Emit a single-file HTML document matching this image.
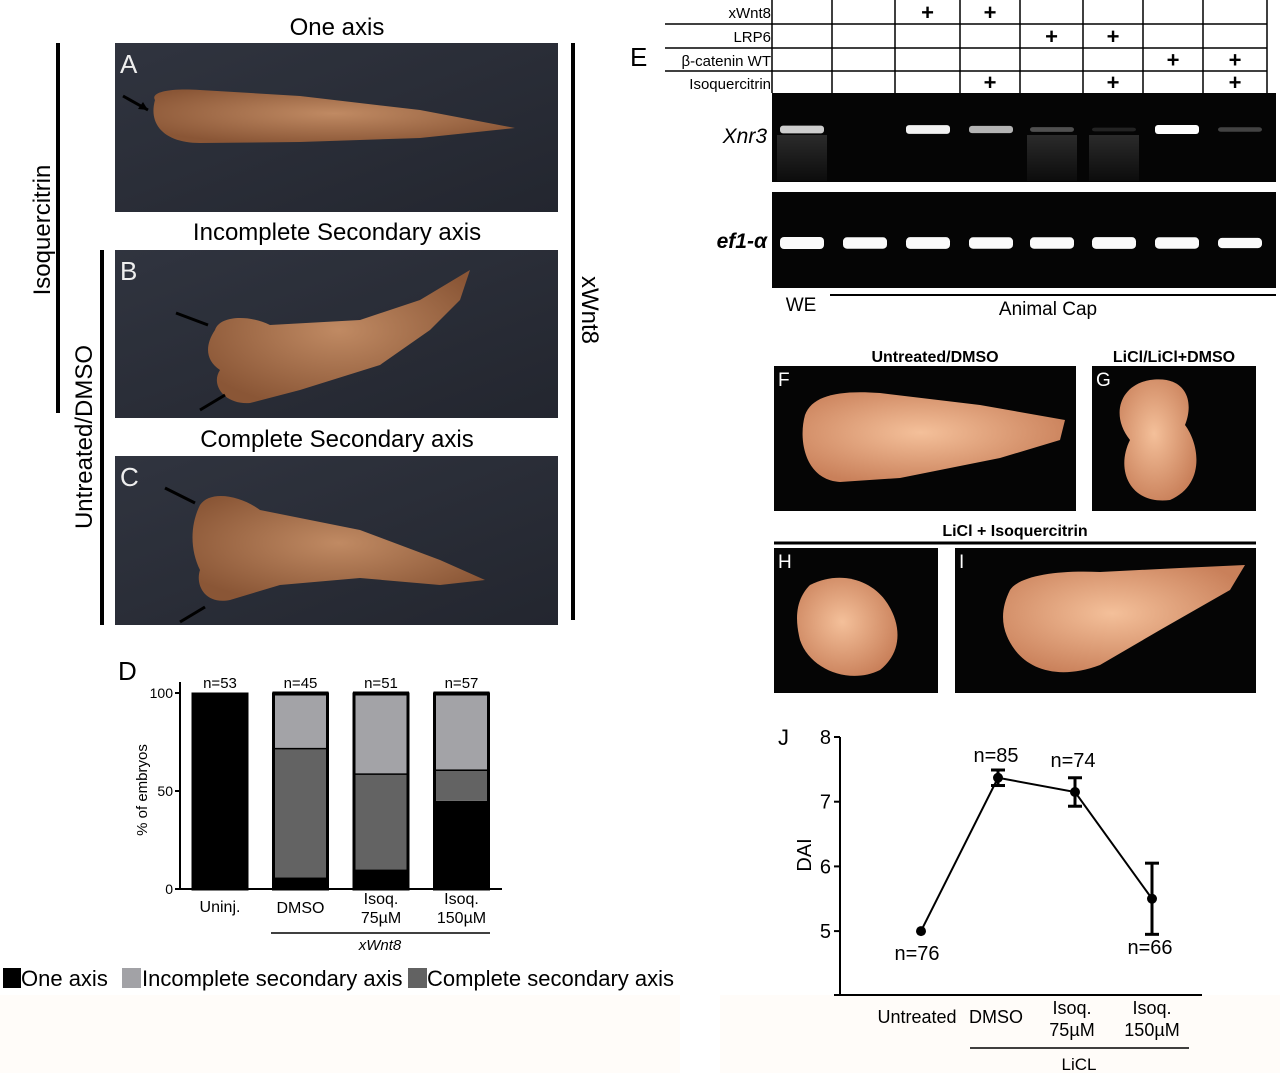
<!DOCTYPE html>
<html><head><meta charset="utf-8"><style>
html,body{margin:0;padding:0;background:#fff;}
body{width:1280px;height:1073px;position:relative;overflow:hidden;font-family:"Liberation Sans",sans-serif;}
svg{position:absolute;left:0;top:0;}
text{font-family:"Liberation Sans",sans-serif;}
</style></head><body>
<svg id="fig" width="1280" height="1073" viewBox="0 0 1280 1073">
<defs>
<radialGradient id="emb" cx="50%" cy="45%" r="60%"><stop offset="0" stop-color="#c08a63"/><stop offset="1" stop-color="#8a5636"/></radialGradient>
<radialGradient id="pe" cx="45%" cy="45%" r="60%"><stop offset="0" stop-color="#f4c09a"/><stop offset="1" stop-color="#c9805a"/></radialGradient>
<linearGradient id="dark" x1="0" y1="0" x2="1" y2="1"><stop offset="0" stop-color="#30343f"/><stop offset="1" stop-color="#23262f"/></linearGradient>
<linearGradient id="smear" x1="0" y1="0" x2="0" y2="1"><stop offset="0" stop-color="#444"/><stop offset="1" stop-color="#111"/></linearGradient>
</defs>
<rect x="0" y="995" width="680" height="78" fill="#fffcf9"/>
<rect x="720" y="995" width="560" height="78" fill="#fffcf9"/>

<text x="337" y="35" font-size="24" text-anchor="middle">One axis</text>
<g>
<rect x="115" y="43" width="443" height="169" fill="url(#dark)"/>
<path d="M155,100 C150,92 170,88 200,90 L300,96 L420,110 L515,128 L420,138 L300,142 L200,143 C165,143 148,125 155,100 Z" fill="url(#emb)"/>
<text x="120" y="73" font-size="26" fill="#eee">A</text>
<path d="M123,96 L148,110" stroke="#000" stroke-width="3"/><path d="M148,110 l-10,-1 l5,-7 z" fill="#000"/>
</g>
<text x="337" y="240" font-size="24" text-anchor="middle">Incomplete Secondary axis</text>
<g>
<rect x="115" y="250" width="443" height="168" fill="url(#dark)"/>
<path d="M215,330 C220,315 250,315 270,325 L360,320 L420,300 L470,270 L460,300 L430,330 L380,365 L300,390 L250,403 C225,405 210,385 220,370 C205,360 205,345 215,330 Z" fill="url(#emb)"/>
<text x="120" y="280" font-size="26" fill="#eee">B</text>
<path d="M176,313 L208,325" stroke="#000" stroke-width="3"/>
<path d="M200,410 L225,395" stroke="#000" stroke-width="3"/>
</g>
<text x="337" y="447" font-size="24" text-anchor="middle">Complete Secondary axis</text>
<g>
<rect x="115" y="456" width="443" height="169" fill="url(#dark)"/>
<path d="M200,505 C210,490 240,495 260,510 L360,530 L440,560 L485,580 L440,585 L360,578 L280,585 L230,600 C205,605 195,585 200,570 C190,550 190,525 200,505 Z" fill="url(#emb)"/>
<text x="120" y="486" font-size="26" fill="#eee">C</text>
<path d="M165,488 L195,503" stroke="#000" stroke-width="3"/>
<path d="M180,622 L205,607" stroke="#000" stroke-width="3"/>
</g>
<line x1="58" y1="43" x2="58" y2="413" stroke="#000" stroke-width="4"/>
<text transform="translate(50,230) rotate(-90)" font-size="24" text-anchor="middle">Isoquercitrin</text>
<line x1="102" y1="250" x2="102" y2="625" stroke="#000" stroke-width="4"/>
<text transform="translate(92,437) rotate(-90)" font-size="24" text-anchor="middle">Untreated/DMSO</text>
<line x1="573" y1="43" x2="573" y2="620" stroke="#000" stroke-width="4"/>
<text transform="translate(582,310) rotate(90)" font-size="24" text-anchor="middle">xWnt8</text>

<g id="chartD"></g>
<g>
<rect x="3" y="968" width="18" height="20" fill="#000"/>
<text x="21" y="986" font-size="22">One axis</text>
<rect x="122" y="968" width="19" height="20" fill="#a2a2a6"/>
<text x="142" y="986" font-size="22">Incomplete secondary axis</text>
<rect x="408" y="968" width="19" height="20" fill="#626262"/>
<text x="427" y="986" font-size="22">Complete secondary axis</text>
</g>

<text x="630" y="66" font-size="26">E</text>
<g id="tableE"></g>
<rect x="772" y="93" width="504" height="89" fill="#050505"/>
<rect x="772" y="192" width="504" height="96" fill="#050505"/>
<g id="gels"></g>
<text x="767" y="143" font-size="21" font-style="italic" text-anchor="end">Xnr3</text>
<text x="767" y="248" font-size="21" font-style="italic" font-weight="bold" text-anchor="end">ef1-α</text>
<text x="801" y="311" font-size="19" text-anchor="middle">WE</text>
<line x1="830" y1="295" x2="1276" y2="295" stroke="#000" stroke-width="2"/>
<text x="1048" y="315" font-size="19" text-anchor="middle">Animal Cap</text>

<text x="935" y="362" font-size="16" font-weight="bold" text-anchor="middle">Untreated/DMSO</text>
<text x="1174" y="362" font-size="16" font-weight="bold" text-anchor="middle">LiCl/LiCl+DMSO</text>
<g>
<rect x="774" y="366" width="302" height="145" fill="#050505"/>
<path d="M805,415 C812,395 840,390 880,393 L980,405 L1065,420 L1060,440 L1000,458 L900,478 L840,482 C805,480 798,440 805,415 Z" fill="url(#pe)"/>
<text x="778" y="386" font-size="19" fill="#fff">F</text></g>
<g>
<rect x="1092" y="366" width="164" height="145" fill="#050505"/>
<path d="M1150,380 C1185,375 1195,400 1185,425 C1200,445 1205,485 1170,500 C1130,505 1115,470 1130,440 C1110,415 1120,385 1150,380 Z" fill="url(#pe)"/>
<text x="1096" y="386" font-size="19" fill="#fff">G</text></g>
<text x="1015" y="536" font-size="16" font-weight="bold" text-anchor="middle">LiCl + Isoquercitrin</text>
<line x1="774" y1="543" x2="1256" y2="543" stroke="#000" stroke-width="3"/>
<g>
<rect x="774" y="548" width="164" height="145" fill="#050505"/>
<path d="M810,585 C840,570 870,580 885,600 C900,620 905,650 880,670 C850,685 810,670 800,640 C795,620 795,600 810,585 Z" fill="url(#pe)"/>
<text x="778" y="568" font-size="19" fill="#fff">H</text></g>
<g>
<rect x="955" y="548" width="301" height="145" fill="#050505"/>
<path d="M1010,590 C1020,575 1060,570 1100,572 L1180,568 L1245,565 L1230,590 L1160,630 L1100,665 C1060,680 1030,670 1015,650 C1000,630 1000,610 1010,590 Z" fill="url(#pe)"/>
<text x="959" y="568" font-size="19" fill="#fff">I</text></g>

<g id="chartJ"></g>
</svg>
<script>
const dCats = ["Uninj.", "DMSO", "Isoq.|75µM", "Isoq.|150µM"];
const dN = ["n=53", "n=45", "n=51", "n=57"];
const dOne = [100, 6, 10, 45];
const dComplete = [0, 66, 49, 16];
const dIncomplete = [0, 28, 41, 39];
const dTicks = [0, 50, 100];
const jCats = ["Untreated", "DMSO", "Isoq.|75µM", "Isoq.|150µM"];
const jVals = [5.0, 7.37, 7.15, 5.5];
const jErr = [0, 0.12, 0.22, 0.55];
const jN = ["n=76", "n=85", "n=74", "n=66"];
const jTicks = [5, 6, 7, 8];
const eRows = ["xWnt8", "LRP6", "β-catenin WT", "Isoquercitrin"];
const ePlus = [[0,0,1,1,0,0,0,0],[0,0,0,0,1,1,0,0],[0,0,0,0,0,0,1,1],[0,0,0,1,0,1,0,1]];
const xnr3 = [0.8, 0, 0.95, 0.7, 0.3, 0.12, 1, 0.25];
const ef1 = [1, 0.95, 0.97, 0.95, 0.95, 0.97, 0.95, 0.85];

const NS = "http://www.w3.org/2000/svg";
function mk(parent, tag, attrs, txt) {
  const e = document.createElementNS(NS, tag);
  for (const k in attrs) e.setAttribute(k, attrs[k]);
  if (txt !== undefined) e.textContent = txt;
  parent.appendChild(e);
  return e;
}
function multiText(g, x, y, s, size, lh) {
  s.split("|").forEach((p, i) => {
    const t = mk(g, "text", {x: x, y: y + i * lh, "font-size": size, "text-anchor": "middle"}, p);
    
    
  });
}

(function(){
  const g = document.getElementById("chartD");
  const yD = v => 889 - v * 1.96;
  const x0 = 192, step = 80.5, bw = 56;
  const xD = i => x0 + i * step;
  const L = mk(g, "text", {x: 118, y: 680, "font-size": 26}, "D");
  
  
  mk(g, "line", {x1: 180, y1: 682, x2: 180, y2: 889, stroke: "#000", "stroke-width": 2});
  mk(g, "line", {x1: 180, y1: 889, x2: 502, y2: 889, stroke: "#000", "stroke-width": 2});
  dTicks.forEach(t => {
    mk(g, "line", {x1: 175, y1: yD(t), x2: 180, y2: yD(t), stroke: "#000", "stroke-width": 2});
    const tl = mk(g, "text", {x: 173, y: yD(t) + 5, "font-size": 14, "text-anchor": "end"}, t);
    
    
  });
  const yt = mk(g, "text", {transform: "translate(147,790) rotate(-90)", "font-size": 15, "text-anchor": "middle"}, "% of embryos");
  
  
  dCats.forEach((c, i) => {
    const x = xD(i);
    let base = 0;
    [[dOne[i], "#000"], [dComplete[i], "#636363"], [dIncomplete[i], "#a3a3a7"]].forEach(([v, col], k) => {
      if (v <= 0) return;
      const r = mk(g, "rect", {x: x, y: yD(base + v), width: bw, height: yD(base) - yD(base + v), fill: col});
      
      
      if (k > 0) mk(g, "line", {x1: x, y1: yD(base + v), x2: x + bw, y2: yD(base + v), stroke: "#000", "stroke-width": 3});
      base += v;
    });
    if (i > 0) mk(g, "line", {x1: x, y1: yD(base), x2: x + bw, y2: yD(base), stroke: "#000", "stroke-width": 3});
    mk(g, "rect", {x: x + 1, y: yD(100) + 1, width: bw - 2, height: yD(0) - yD(100) - 1, fill: "none", stroke: "#000", "stroke-width": 3});
    const nt = mk(g, "text", {x: x + bw / 2, y: 688, "font-size": 15, "text-anchor": "middle"}, dN[i]);
    
    
    multiText(g, x + bw / 2, i === 0 ? 912 : (i === 1 ? 913 : 904), c, 16, 19);
  });
  mk(g, "line", {x1: 271, y1: 933, x2: 490, y2: 933, stroke: "#000", "stroke-width": 1.5});
  const xw = mk(g, "text", {x: 380, y: 950, "font-size": 15, "font-style": "italic", "text-anchor": "middle"}, "xWnt8");
  
  
})();

(function(){
  const g = document.getElementById("tableE");
  const cols = [772, 832, 895, 960, 1020, 1083, 1143, 1203, 1267];
  const rowY = [0, 24, 48, 71, 93];
  for (let r = 1; r < 4; r++) mk(g, "line", {x1: 665, y1: rowY[r], x2: 1267, y2: rowY[r], stroke: "#000", "stroke-width": 1.5});
  cols.forEach(x => mk(g, "line", {x1: x, y1: 0, x2: x, y2: 93, stroke: "#000", "stroke-width": 1.5}));
  eRows.forEach((lab, r) => {
    const t = mk(g, "text", {x: 771, y: rowY[r] + 18, "font-size": 15, "text-anchor": "end"}, lab);
    
    
    ePlus[r].forEach((p, c) => {
      if (!p) return;
      const cx = (cols[c] + cols[c + 1]) / 2, cy = (rowY[r] + rowY[r + 1]) / 2;
      const pl = mk(g, "text", {x: cx, y: cy + 8, "font-size": 22, "text-anchor": "middle", "font-weight": "bold"}, "+");
      
      
    });
  });
  const gg = document.getElementById("gels");
  const lanes = [802, 865, 928, 991, 1052, 1114, 1177, 1240];
  lanes.forEach((lx, i) => {
    if (i === 0 || i === 4 || i === 5) mk(gg, "rect", {x: lx - 25, y: 135, width: 50, height: 46, fill: "url(#smear)", opacity: 0.6});
    const a = xnr3[i];
    if (a > 0) {
      const b = mk(gg, "rect", {x: lx - 22, y: 130 - 2 - a * 3, width: 44, height: 3 + a * 6, rx: 3, fill: "#fff", opacity: Math.min(1, a)});
      
      
    }
    const e = ef1[i];
    const b2 = mk(gg, "rect", {x: lx - 22, y: 243 - e * 6, width: 44, height: e * 12, rx: 4, fill: "#fafafa"});
    
    
  });
})();

(function(){
  const g = document.getElementById("chartJ");
  const yJ = v => 737 + (8 - v) * 64.7;
  const xs = [921, 995, 1075, 1152];
  const xJ = i => xs[0] + (xs[3] - xs[0]) * i / 3;
  const L = mk(g, "text", {x: 778, y: 745, "font-size": 22}, "J");
  
  
  mk(g, "line", {x1: 840, y1: 737, x2: 840, y2: 995, stroke: "#000", "stroke-width": 2});
  mk(g, "line", {x1: 834, y1: 995, x2: 1202, y2: 995, stroke: "#000", "stroke-width": 2});
  jTicks.forEach(t => {
    mk(g, "line", {x1: 834, y1: yJ(t), x2: 840, y2: yJ(t), stroke: "#000", "stroke-width": 2});
    const tl = mk(g, "text", {x: 831, y: yJ(t) + 7, "font-size": 20, "text-anchor": "end"}, t);
    
    
  });
  const yt = mk(g, "text", {transform: "translate(811,855) rotate(-90)", "font-size": 20, "text-anchor": "middle"}, "DAI");
  
  
  const pts = jVals.map((v, i) => xJ(i) + "," + yJ(v)).join(" ");
  const pl = mk(g, "polyline", {points: pts, fill: "none", stroke: "#000", "stroke-width": 2});
  
  
  jVals.forEach((v, i) => {
    const x = xJ(i);
    if (jErr[i] > 0) {
      mk(g, "line", {x1: x, y1: yJ(v + jErr[i]), x2: x, y2: yJ(v - jErr[i]), stroke: "#000", "stroke-width": 3});
      mk(g, "line", {x1: x - 7, y1: yJ(v + jErr[i]), x2: x + 7, y2: yJ(v + jErr[i]), stroke: "#000", "stroke-width": 3});
      mk(g, "line", {x1: x - 7, y1: yJ(v - jErr[i]), x2: x + 7, y2: yJ(v - jErr[i]), stroke: "#000", "stroke-width": 3});
    }
    const c = mk(g, "circle", {cx: x, cy: yJ(v), r: 5, fill: "#000"});
    
    
    const below = (i === 0 || i === 3);
    const ny = below ? (i === 0 ? 960 : 954) : (i === 1 ? 762 : 767);
    const nt = mk(g, "text", {x: i === 0 ? 917 : x - 2, y: ny, "font-size": 20, "text-anchor": "middle"}, jN[i]);
    
    
  });
  multiText(g, 917, 1023, jCats[0], 18, 22);
  multiText(g, 996, 1023, jCats[1], 18, 22);
  multiText(g, 1072, 1014, jCats[2], 18, 22);
  multiText(g, 1152, 1014, jCats[3], 18, 22);
  mk(g, "line", {x1: 970, y1: 1048, x2: 1189, y2: 1048, stroke: "#000", "stroke-width": 1.5});
  const lc = mk(g, "text", {x: 1079, y: 1070, "font-size": 17, "text-anchor": "middle"}, "LiCL");
  
  
})();
</script>
</body></html>
